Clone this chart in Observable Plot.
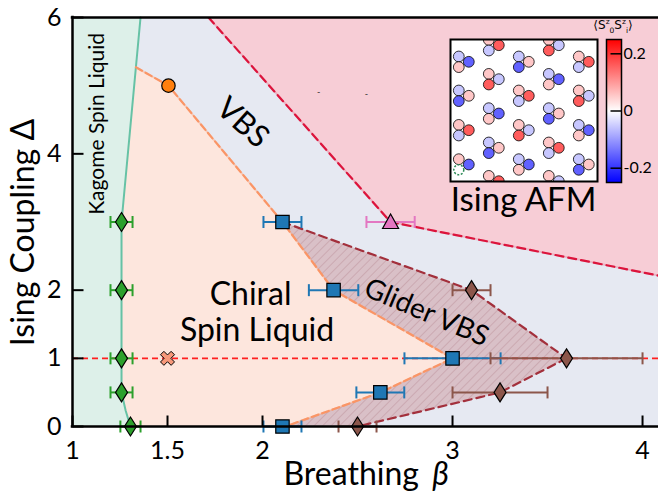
<!DOCTYPE html>
<html><head><meta charset="utf-8">
<script src="https://cdn.jsdelivr.net/npm/d3@7"></script>
<script src="https://cdn.jsdelivr.net/npm/@observablehq/plot@0.6"></script>
<style>
body{margin:0;background:#fff;}
#chart{position:relative;width:658px;height:493px;}
#chart svg{position:absolute;left:0;top:0;}
</style></head><body><div id="chart"></div>
<script>
const FONT = "Lato, 'Liberation Sans', sans-serif";

// ---------- axes ----------
const xTicks = [1, 1.5, 2, 3, 4];
const yTicks = [0, 1, 2, 4, 6];

// ---------- phase boundaries (beta, Delta) ----------
const kslLineBeta  = [1.305, 1.28, 1.258, 1.258, 1.258, 1.258, 1.358];
const kslLineDelta = [0, 0.23, 0.5, 1, 2, 3, 6];
const cslLineBeta  = [1.334, 1.505, 2.105, 2.374, 3.0, 2.62, 2.12];
const cslLineDelta = [5.27, 5.0, 3.0, 2.0, 1.0, 0.5, 0];
const afmLineBeta  = [1.716, 2.674, 4.09];
const afmLineDelta = [6, 3, 2.21];
const gliderUpBeta  = [2.105, 3.1, 3.6];
const gliderUpDelta = [3, 2, 1];
const gliderLowBeta  = [3.6, 3.25, 2.5];
const gliderLowDelta = [1, 0.5, 0];

// ---------- transition points with error bars ----------
const kslBeta  = [1.305, 1.258, 1.258, 1.258, 1.258];
const kslDelta = [0, 0.5, 1, 2, 3];
const kslErr   = [0.053, 0.058, 0.058, 0.058, 0.058];
const vbsBeta  = [2.105, 2.62, 3.0, 2.374, 2.105];
const vbsDelta = [0, 0.5, 1, 2, 3];
const vbsErr   = [0.1, 0.126, 0.253, 0.13, 0.1];
const gvbsBeta  = [2.5, 3.25, 3.6, 3.1];
const gvbsDelta = [0, 0.5, 1, 2];
const gvbsErr   = [0.1, 0.25, 0.4, 0.1];
const afmBeta  = [2.674];
const afmDelta = [3];
const afmErr   = [0.127];
const endBeta  = [1.505];
const endDelta = [5.0];
const crossBeta  = [1.5];
const crossDelta = [1];
const speckBeta  = [2.295, 2.547];
const speckDelta = [4.9, 4.88];

// ---------- inset: trimer correlations <S0z Siz> ----------
const DB = -0.155, LB = -0.055, LP = 0.055, RD = 0.16;
const trimerX = [8.3,8.3,8.3,8.3, 38.3,38.3,38.3,38.3,38.3, 68.3,68.3,68.3,68.3, 98.3,98.3,98.3,98.3,98.3, 128.3,128.3,128.3,128.3];
const trimerY = [22.3,56.3,90.7,125, 5.7,39.7,74,108.3,141.7, 22.3,56.3,90.7,125, 5.7,39.7,74,108.3,141.7, 22.3,56.3,90.7,125];
const upperVal = [LB,LB,LP,LP, LP,LP,LB,LB,LP, LB,LP,LP,LB, LP,LB,LB,LP,LP, LP,LP,LB,LB];
const rightVal = [DB,LP,RD,DB, RD,LB,DB,LP,RD, LP,RD,LB,DB, LB,DB,LP,RD,LB, RD,LB,DB,LP];
const lowerVal = [LP,DB,LB,null, LB,RD,LP,DB,LB, DB,LB,RD,LP, RD,LP,DB,LB,RD, LB,RD,LP,DB];
const cbTicks = [-0.2, 0, 0.2];
const cbLabels = ["-0.2", "0", "0.2"];

// ---------- build tables ----------
const pts = (B, D) => B.map((b, i) => ({b, d: D[i]}));
const errPts = (B, D, E) => B.map((b, i) => ({b, d: D[i], e: E[i]}));
const kslLine = pts(kslLineBeta, kslLineDelta);
const cslLine = pts(cslLineBeta, cslLineDelta);
const afmLine = pts(afmLineBeta, afmLineDelta);
const gUp = pts(gliderUpBeta, gliderUpDelta);
const gLow = pts(gliderLowBeta, gliderLowDelta);
const chiralPoly = kslLine.filter(p => p.d <= 3).concat(cslLine);
const gliderPoly = gUp.concat(gLow.slice(1), cslLine.slice(2).reverse().slice(0, 4));
const ksl = errPts(kslBeta, kslDelta, kslErr);
const vbs = errPts(vbsBeta, vbsDelta, vbsErr);
const gvbs = errPts(gvbsBeta, gvbsDelta, gvbsErr);
const afm = errPts(afmBeta, afmDelta, afmErr);

const C = {vbs:"#e6e9f2", afm:"#f7cdd6", ksl:"#ddf0e9", csl:"#fde6dd",
  green:"#66c2a5", orange:"#fa9566", crimson:"#dc143c", glider:"#a3303c", red:"#ff1f1f",
  kslPt:"#2ca02c", vbsPt:"#1f77b4", gPt:"#8c564b", afmPt:"#e377c2"};

// ---------- symbols ----------
const poly = P => ({draw(ctx){ctx.moveTo(P[0][0],P[0][1]); for (let i=1;i<P.length;i++) ctx.lineTo(P[i][0],P[i][1]); ctx.closePath();}});
const seg = (a,b,c,d) => ({draw(ctx){ctx.moveTo(a,b); ctx.lineTo(c,d);}});
const thinDiamond = poly([[0,-9.5],[6,0],[0,9.5],[-6,0]]);
const square = poly([[-6.7,-6.7],[6.7,-6.7],[6.7,6.7],[-6.7,6.7]]);
const triangle = poly([[0,-8],[8,6.5],[-8,6.5]]);
const plusShape = [[2.4,-7.5],[2.4,-2.4],[7.5,-2.4],[7.5,2.4],[2.4,2.4],[2.4,7.5],[-2.4,7.5],[-2.4,2.4],[-7.5,2.4],[-7.5,-2.4],[-2.4,-2.4],[-2.4,-7.5]];
const xShape = poly(plusShape.map(([x,y]) => [(x-y)/Math.SQRT2, (x+y)/Math.SQRT2]));
const cap = seg(0,-6,0,6);
const tickUp = seg(0,0,0,-11);
const tickRight = seg(0,0,11,0);

function errorMarks(data, color, symbol) {
  return [
    Plot.ruleY(data, {y:"d", x1: d => d.b - d.e, x2: d => d.b + d.e, stroke: color, strokeWidth: 2}),
    Plot.dot(data, {x: d => d.b - d.e, y:"d", symbol: cap, stroke: color, strokeWidth: 2, fill: "none"}),
    Plot.dot(data, {x: d => d.b + d.e, y:"d", symbol: cap, stroke: color, strokeWidth: 2, fill: "none"}),
    Plot.dot(data, {x:"b", y:"d", symbol, fill: color, stroke: "black", strokeWidth: 1.2})
  ];
}

const main = Plot.plot({
  width: 658, height: 493,
  marginLeft: 72, marginRight: 0, marginTop: 17, marginBottom: 67,
  x: {domain: [1, 4.084], axis: null},
  y: {domain: [0, 6], axis: null},
  style: {fontFamily: FONT, background: "white", color: "black"},
  marks: [
    Plot.frame({fill: C.vbs, stroke: null}),
    Plot.areaY(afmLine, {x: "b", y1: "d", y2: 6, fill: C.afm, clip: true}),
    Plot.areaX(kslLine, {y: "d", x1: 1, x2: "b", fill: C.ksl}),
    Plot.line(chiralPoly, {x: "b", y: "d", fill: C.csl, stroke: "none"}),
    Plot.line(gliderPoly, {x: "b", y: "d", fill: "url(#hatch)", stroke: "none"}),
    Plot.ruleY([1], {stroke: C.red, strokeWidth: 1.6, strokeDasharray: "6,4"}),
    Plot.line(kslLine, {x: "b", y: "d", stroke: C.green, strokeWidth: 2}),
    Plot.line(cslLine, {x: "b", y: "d", stroke: C.orange, strokeWidth: 2, strokeOpacity: 0.35}),
    Plot.line(cslLine, {x: "b", y: "d", stroke: C.orange, strokeWidth: 2.2, strokeDasharray: "7,4"}),
    Plot.line(afmLine, {x: "b", y: "d", stroke: C.crimson, strokeWidth: 2, strokeOpacity: 0.2, clip: true}),
    Plot.line(afmLine, {x: "b", y: "d", stroke: C.crimson, strokeWidth: 2.2, strokeDasharray: "8,5", clip: true}),
    Plot.line(gUp, {x: "b", y: "d", stroke: C.glider, strokeWidth: 2.2, strokeDasharray: "8,5"}),
    Plot.line(gLow, {x: "b", y: "d", stroke: C.glider, strokeWidth: 2.2, strokeDasharray: "8,5"}),
    ...errorMarks(ksl, C.kslPt, thinDiamond),
    ...errorMarks(vbs, C.vbsPt, square),
    ...errorMarks(gvbs, C.gPt, thinDiamond),
    ...errorMarks(afm, C.afmPt, triangle),
    Plot.dot(pts(endBeta, endDelta), {x: "b", y: "d", r: 6.7, fill: "#ff7f0e", stroke: "black", strokeWidth: 1.2}),
    Plot.dot(pts(crossBeta, crossDelta), {x: "b", y: "d", symbol: xShape, fill: "#f7987a", stroke: "black", strokeWidth: 1}),
    Plot.text(pts(speckBeta, speckDelta), {x: "b", y: "d", text: () => "-", fontSize: 9, fill: "#333"}),
    // region labels
    Plot.text(["Kagome Spin Liquid"], {x: 1.132, y: 4.44, text: d => d, rotate: -90, fontSize: 21}),
    Plot.text(["VBS"], {x: 1.895, y: 4.457, text: d => d, rotate: 42, fontSize: 31}),
    Plot.text(["Chiral"], {x: 1.937, y: 1.928, text: d => d, fontSize: 32}),
    Plot.text(["Spin Liquid"], {x: 1.971, y: 1.408, text: d => d, fontSize: 32}),
    Plot.text(["Glider VBS"], {x: 2.863, y: 1.672, text: d => d, rotate: 23, fontSize: 28}),
    Plot.text(["Ising AFM"], {x: 3.374, y: 3.31, text: d => d, fontSize: 33}),
    // frame
    Plot.ruleX([1], {stroke: "black", strokeWidth: 2.5, strokeLinecap: "square"}),
    Plot.ruleY([0, 6], {stroke: "black", strokeWidth: 2.5, strokeLinecap: "square"}),
    Plot.dot(xTicks, {x: d => d, y: 0, symbol: tickUp, stroke: "black", strokeWidth: 2}),
    Plot.dot(yTicks, {x: 1, y: d => d, symbol: tickRight, stroke: "black", strokeWidth: 2}),
    Plot.text(xTicks, {x: d => d, y: 0, dy: 24, text: d => String(d), fontSize: 25}),
    Plot.text(yTicks, {x: 1, y: d => d, dx: -11, textAnchor: "end", text: d => String(d), fontSize: 25}),
    // axis titles
    Plot.text(["Breathing"], {x: 2.467, y: -0.713, text: d => d, fontSize: 32}),
    Plot.text(["β"], {x: 2.937, y: -0.713, text: d => d, fontSize: 32, fontStyle: "italic"}),
    Plot.text(["Ising Coupling Δ"], {x: 0.744, y: 2.845, text: d => d, rotate: -90, fontSize: 32})
  ]
});
d3.select(main).insert("defs", ":first-child").html(
  `<pattern id="hatch" patternUnits="userSpaceOnUse" width="6" height="6" patternTransform="rotate(45)">
     <rect width="6" height="6" fill="#d9c0c7"/>
     <line x1="0" y1="0" x2="0" y2="6" stroke="#c49ca6" stroke-width="1.3"/>
   </pattern>`);

// ---------- inset ----------
const sites = [];
trimerX.forEach((x, i) => {
  sites.push({x, y: trimerY[i] - 5.3, v: upperVal[i]});
  sites.push({x: x + 10, y: trimerY[i], v: rightVal[i]});
  sites.push({x, y: trimerY[i] + 5.3, v: lowerVal[i]});
});
const inset = Plot.plot({
  width: 658, height: 493,
  marginLeft: 450, marginRight: 61, marginTop: 39, marginBottom: 312,
  x: {domain: [0, 147], axis: null},
  y: {domain: [142, 0], axis: null},
  color: {type: "linear", domain: [-0.25, 0, 0.25], range: ["#0000ff", "#ffffff", "#ff0000"]},
  style: {background: "transparent"},
  marks: [
    Plot.frame({fill: "white", stroke: null}),
    Plot.dot(sites.filter(s => s.v !== null), {x: "x", y: "y", r: 5.4, fill: "v", stroke: "black", strokeWidth: 0.8, clip: true}),
    Plot.dot(sites.filter(s => s.v === null), {x: "x", y: "y", r: 5, fill: "none", stroke: "#2e8b57", strokeWidth: 1.5, strokeDasharray: "2,1.6"}),
    Plot.frame({stroke: "black", strokeWidth: 2})
  ]
});

// ---------- colorbar ----------
const colorScale = inset.scale("color");
const cb = Plot.plot({
  width: 658, height: 493,
  marginLeft: 606, marginRight: 37, marginTop: 39, marginBottom: 311,
  x: {domain: [0, 1], axis: null},
  y: {domain: [-0.25, 0.25], axis: null},
  style: {background: "transparent", fontFamily: FONT, color: "black"},
  marks: [
    Plot.frame({fill: "url(#cbgrad)", stroke: "black", strokeWidth: 1.5}),
    Plot.ruleY(cbTicks, {y: d => d, x1: 0.3, x2: 1, stroke: "black", strokeWidth: 1.5}),
    Plot.text(cbTicks, {x: 1, y: d => d, dx: 2, textAnchor: "start", text: (d, i) => cbLabels[i], fontSize: 16})
  ]
});
const grad = d3.select(cb).insert("defs", ":first-child").append("linearGradient")
  .attr("id", "cbgrad").attr("x1", 0).attr("y1", 1).attr("x2", 0).attr("y2", 0);
colorScale.domain.forEach((v, i, a) => grad.append("stop")
  .attr("offset", (v - a[0]) / (a[a.length - 1] - a[0])).attr("stop-color", colorScale.apply(v)));
const lab = d3.select(cb).append("text").attr("x", 613).attr("y", 29).attr("text-anchor", "middle")
  .attr("font-family", "'DejaVu Sans', sans-serif").attr("font-size", 12).attr("fill", "black");
lab.append("tspan").text("⟨S");
lab.append("tspan").attr("font-size", 7.5).attr("dy", -5).text("z");
lab.append("tspan").attr("font-size", 7.5).attr("dy", 9).text("0");
lab.append("tspan").attr("dy", -4).text("S");
lab.append("tspan").attr("font-size", 7.5).attr("dy", -5).text("z");
lab.append("tspan").attr("font-size", 7.5).attr("dy", 9).text("i");
lab.append("tspan").attr("dy", -4).text("⟩");

const root = document.getElementById("chart");
root.append(main, inset, cb);
</script>
</body></html>
